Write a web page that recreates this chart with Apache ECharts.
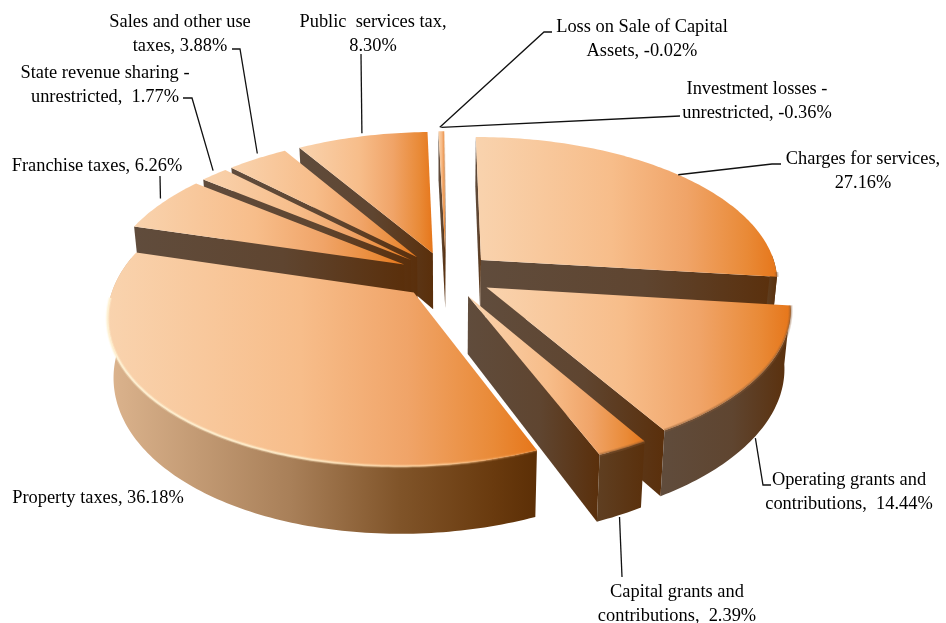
<!DOCTYPE html>
<html>
<head>
<meta charset="utf-8">
<style>html,body{margin:0;padding:0;background:#fff}#chart{width:946px;height:623px}</style>
<script src="https://cdn.jsdelivr.net/npm/echarts@6/dist/echarts.min.js"></script>
</head>
<body>
<div id="chart"></div>
<script>
// Revenue shares, clockwise from twelve o'clock
const categories = ['Charges for services', 'Operating grants and contributions', 'Capital grants and contributions',
  'Property taxes', 'Franchise taxes', 'State revenue sharing - unrestricted', 'Sales and other use taxes',
  'Public services tax', 'Investment losses - unrestricted', 'Loss on Sale of Capital Assets'];
const shares = [27.16, 14.44, 2.39, 36.18, 6.26, 1.77, 3.88, 8.30, -0.36, -0.02];
const labelLines = [
  'Charges for services,\n27.16%', 'Operating grants and\ncontributions,  14.44%', 'Capital grants and\ncontributions,  2.39%',
  'Property taxes, 36.18%', 'Franchise taxes, 6.26%', 'State revenue sharing -\nunrestricted,  1.77%',
  'Sales and other use\ntaxes, 3.88%', 'Public  services tax,\n8.30%', 'Investment losses -\nunrestricted, -0.36%',
  'Loss on Sale of Capital\nAssets, -0.02%'];

// Back slices are painted first so nearer ones overlap them
const paintOrder = [9, 8, 7, 6, 5, 4, 0, 1, 2, 3];

// Text placement and leader-line elbows, in page pixels
const labelCentres = [[863, 171], [849, 492], [677, 604], [98, 498], [97, 166], [105, 85], [180, 34], [373, 34], [757, 101], [642, 39]];
const leaderElbows = [
  [[781, 164], [772, 164]], [[771, 485], [763, 485]], [[622, 577]], null, [[160, 176]],
  [[183, 98], [192, 98]], [[232, 49], [240, 49]], [[361, 54]], [[680, 116]], [[552, 32], [544, 32]]];
const leaderEndNudge = [[0, 0], [0, 2], [0, 2], [0, 0], [-1, -5], [-1, -4], [0, -5], [0, -3], [0, -4], [-5, -4]];

// Projection of the tilted disc
const view = { cx: 446, cy: 275, rx: 297, ry: 144, persp: 0.14, explode: 0.16, depth: 57, shrink: 0.018, shear: 7.5, start: -0.2 };

const magnitudes = shares.map(Math.abs);
const total = magnitudes.reduce((a, b) => a + b, 0);
let running = view.start;
const sweeps = magnitudes.map(v => {
  const from = running;
  running += v / total * 360;
  return [from, running];
});

function project(X, Y, lower) {
  const s = 1 / (1 - view.persp * Y);
  let x = view.cx + view.rx * X * s - (Y > 0 ? view.shear * Y * Y : 0);
  let y = view.cy + view.ry * Y * s;
  if (lower) {
    x = view.cx + (x - view.cx) * (1 - view.shrink);
    y += view.depth * s;
  }
  return [x, y];
}
const rad = d => d * Math.PI / 180;
function apexOf(i) {
  const mid = rad((sweeps[i][0] + sweeps[i][1]) / 2);
  return [Math.sin(mid) * view.explode, -Math.cos(mid) * view.explode];
}
function rimOf(i, deg, lower) {
  const a = apexOf(i);
  return project(a[0] + Math.sin(rad(deg)), a[1] - Math.cos(rad(deg)), lower);
}
function arcPoints(i, lower, fromDeg, toDeg) {
  const pts = [];
  const from = fromDeg === undefined ? sweeps[i][0] : fromDeg;
  const to = toDeg === undefined ? sweeps[i][1] : toDeg;
  const n = Math.max(1, Math.ceil(to - from));
  for (let k = 0; k <= n; k++) pts.push(rimOf(i, from + (to - from) * k / n, lower));
  return pts;
}
const horizontal = stops => new echarts.graphic.LinearGradient(0, 0, 1, 0,
  stops.map(s => ({ offset: s[0], color: s[1] })));

const topStops = [[0, '#f9d3ae'], [0.45, '#f7bd8a'], [0.7, '#f0a468'], [0.9, '#e98a37'], [1, '#e6761a']];
const wallStops = [[0, '#604c3c'], [0.55, '#5f4530'], [1, '#5a2f0b']];
const narrowWallStops = [[0, '#5f3f22'], [1, '#5a300c']];
const propertyWallStops = [[0, '#dcb48e'], [0.43, '#a87f58'], [0.68, '#805429'], [0.9, '#693a0e'], [1, '#5c2f06']];

function renderSlice(params, api) {
  const i = api.value(0);
  const from = sweeps[i][0], to = sweeps[i][1];
  const apexTop = project(apexOf(i)[0], apexOf(i)[1], false);
  const apexLow = project(apexOf(i)[0], apexOf(i)[1], true);
  const top = arcPoints(i, false);
  const isProperty = categories[i] === 'Property taxes';
  const wall = { fill: horizontal(wallStops) };
  const children = [];

  // Only walls that turn towards the viewer are drawn
  if (-Math.sin(rad(from)) > -0.02) {
    children.push({ type: 'polygon', shape: { points: [apexTop, rimOf(i, from, false), rimOf(i, from, true), apexLow] }, style: wall });
  }
  if (Math.sin(rad(to)) > 0) {
    children.push({ type: 'polygon', shape: { points: [apexTop, rimOf(i, to, false), rimOf(i, to, true), apexLow] }, style: wall });
  }
  const wallFrom = Math.max(from, 88), wallTo = Math.min(to, 284);
  if (wallTo > wallFrom) {
    const upper = arcPoints(i, false, wallFrom, wallTo);
    const lower = arcPoints(i, true, wallFrom, wallTo);
    const arcStops = isProperty ? propertyWallStops : (wallTo - wallFrom < 15 ? narrowWallStops : wallStops);
    children.push({ type: 'polygon', shape: { points: upper.concat(lower.reverse()) }, style: { fill: horizontal(arcStops) } });
  }
  children.push({ type: 'polygon', shape: { points: [apexTop].concat(top) }, style: { fill: horizontal(topStops) } });

  // Soft bevel along the front-facing part of the rim
  const a0 = Math.max(from, 95), a1 = Math.min(to, 268);
  if (a1 > a0) {
    const rim = arcPoints(i, false, a0, a1);
    if (isProperty) {
      const glow = horizontal([[0, 'rgba(255,243,214,0.85)'], [0.45, 'rgba(255,236,200,0.8)'], [0.8, 'rgba(255,205,150,0.55)'], [1, 'rgba(240,150,70,0.25)']]);
      children.push({ type: 'polyline', shape: { points: rim }, style: { fill: null, stroke: glow, lineWidth: 4, opacity: 0.35 } });
      children.push({ type: 'polyline', shape: { points: rim }, style: { fill: null, stroke: glow, lineWidth: 2 } });
    } else {
      children.push({ type: 'polyline', shape: { points: rim }, style: { fill: null, stroke: 'rgba(150,100,60,0.25)', lineWidth: 4 } });
      children.push({ type: 'polyline', shape: { points: rim }, style: { fill: null, stroke: 'rgba(120,80,45,0.3)', lineWidth: 2 } });
    }
  }
  return { type: 'group', children };
}

function renderLabel(params, api) {
  const i = api.value(0);
  const c = labelCentres[i];
  const children = [{
    type: 'text',
    style: { x: c[0], y: c[1], text: labelLines[i], align: 'center', verticalAlign: 'middle',
      font: '18.4px "Liberation Serif"', lineHeight: 23.5, fill: '#000' }
  }];
  if (leaderElbows[i]) {
    const mid = (sweeps[i][0] + sweeps[i][1]) / 2;
    const end = rimOf(i, mid, mid > 90 && mid < 270);
    end[0] += leaderEndNudge[i][0];
    end[1] += leaderEndNudge[i][1];
    children.push({
      type: 'polyline',
      shape: { points: leaderElbows[i].concat([end]) },
      style: { fill: null, stroke: '#111', lineWidth: 1.3 }
    });
  }
  return { type: 'group', children };
}

const chart = echarts.init(document.getElementById('chart'), null, { renderer: 'canvas' });
chart.setOption({
  animation: false,
  backgroundColor: '#fff',
  series: [
    { type: 'custom', coordinateSystem: 'none', silent: true, renderItem: renderSlice,
      data: paintOrder.map(i => [i, shares[i]]) },
    { type: 'custom', coordinateSystem: 'none', silent: true, renderItem: renderLabel, z: 5,
      data: categories.map((name, i) => ({ name, value: [i, shares[i]] })) }
  ]
});
</script>
</body>
</html>
